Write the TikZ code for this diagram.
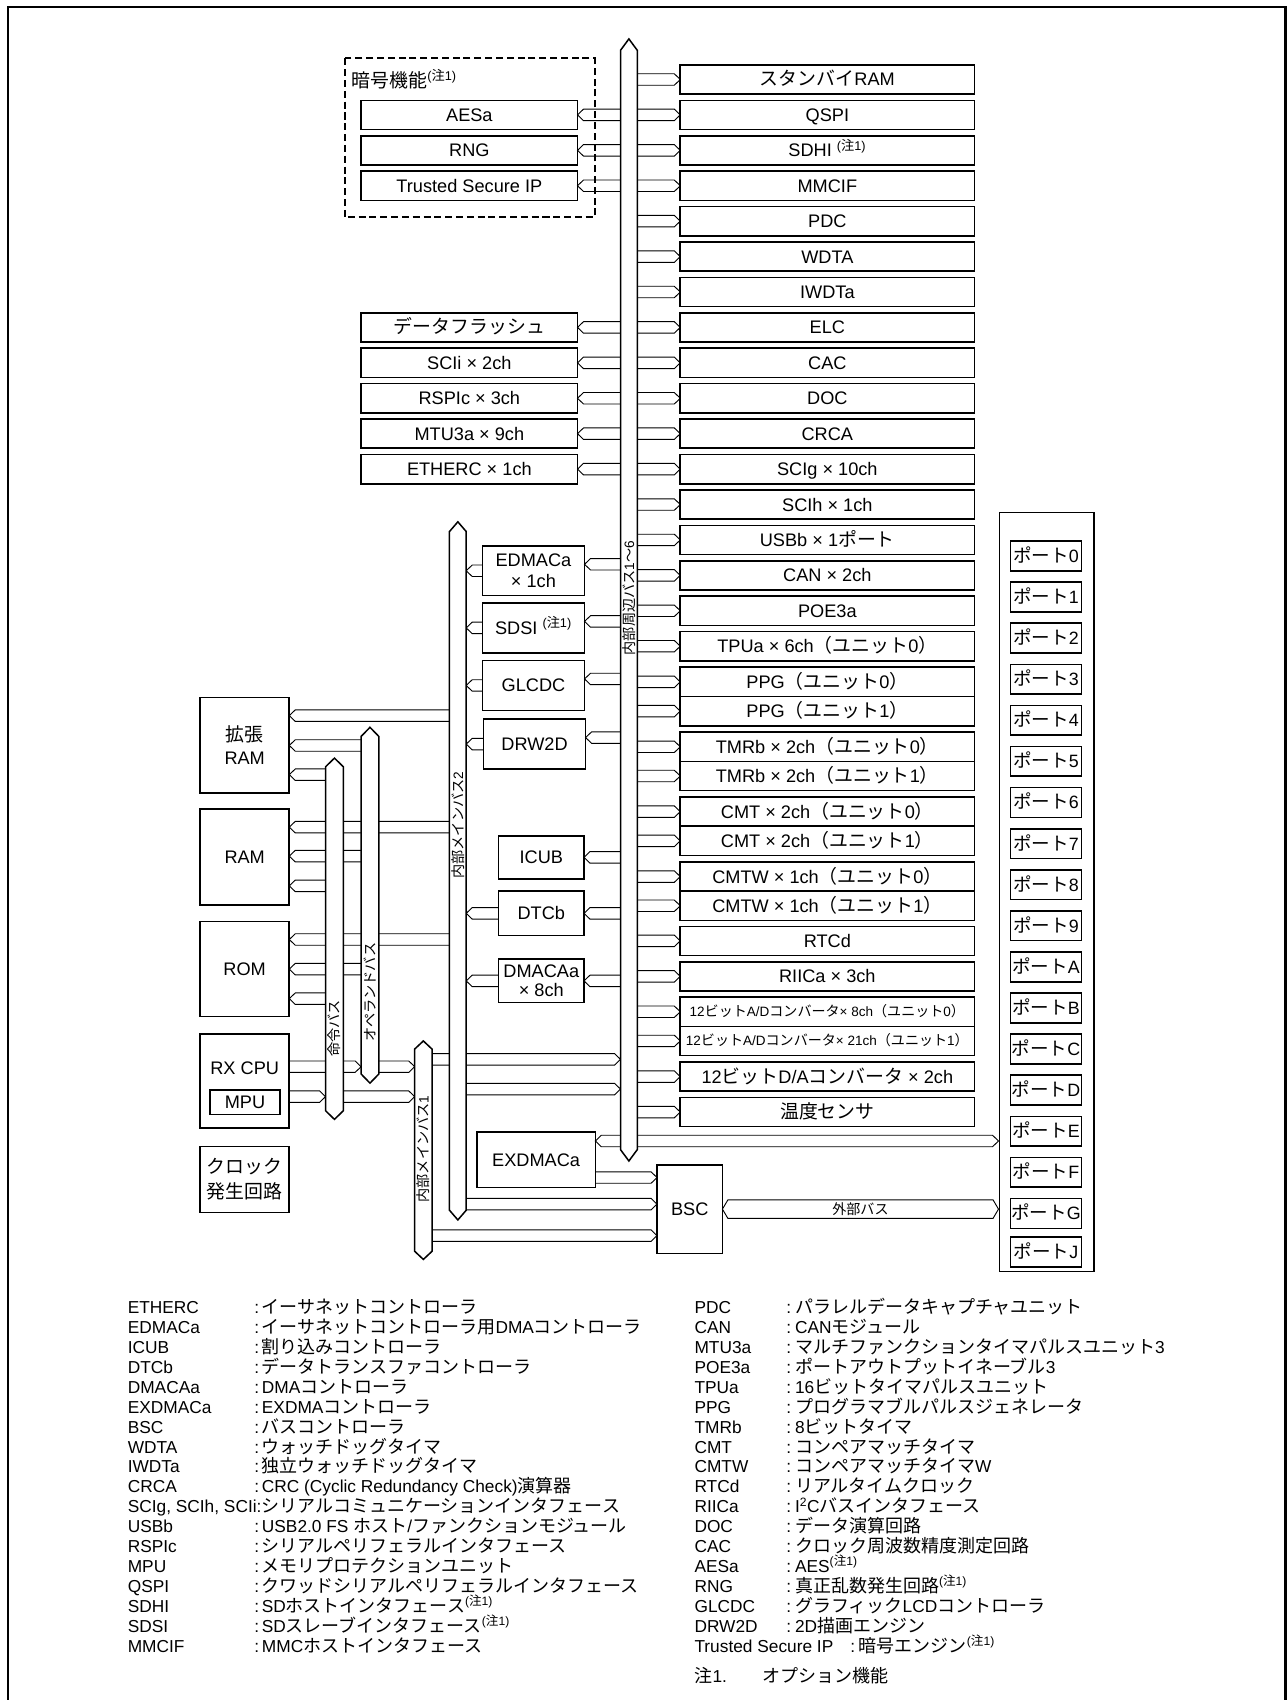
\documentclass[tikz,border=0pt]{standalone}
\usepackage{fontspec}
\setmainfont{Liberation Sans}
\newfontfamily\jpfont[Scale=1.04]{Noto Sans CJK JP}
\usetikzlibrary{calc}
\XeTeXinterchartokenstate=1
\newXeTeXintercharclass\cjkcls
\newcount\cjkc
\def\setcjkrange#1#2{\cjkc=#1\relax
  \loop\XeTeXcharclass\cjkc=\cjkcls\relax
  \advance\cjkc by 1\relax
  \ifnum\cjkc<#2\relax\repeat}
\setcjkrange{"3000}{"3100}
\setcjkrange{"4E00}{"A000}
\setcjkrange{"FF00}{"FFF0}
\XeTeXinterchartoks 0 \cjkcls = {\jpfont}
\XeTeXinterchartoks 4095 \cjkcls = {\jpfont}
\XeTeXinterchartoks \cjkcls 0 = {\normalfont}
\XeTeXinterchartoks \cjkcls 4095 = {\normalfont}
\newcommand\fsz[2]{\fontsize{#1}{#2}\selectfont}
\tikzset{
  bx/.style={draw, line width=1.5pt, fill=white, inner sep=0pt, outer sep=0pt, align=center, font=\fsz{16.8}{20}, text height=12pt, text depth=0pt},
  multi/.style={text height={}, text depth={}},
  rbox/.style={bx, minimum width=272pt, minimum height=27pt},
  smallbox/.style={rbox, font=\fsz{12.5}{15}, text height=9pt},
  lbox/.style={bx, minimum width=200pt, minimum height=27pt},
  pbox/.style={bx, minimum width=65.5pt, minimum height=27.5pt, font=\fsz{16.5}{20}},
  busn/.style={inner sep=0pt, outer sep=0pt},
  conn/.style={draw, line width=0.85pt, line join=miter},
  busline/.style={draw, line width=1.4pt, fill=white, line join=miter},
  buslabel/.style={rotate=90, inner sep=0pt, font=\fsz{12.6}{15}},
  leg/.style={anchor=base west, inner sep=0pt, font=\fsz{16}{19}},
}
\def\ah{5.3}\def\at{5.5}
\newcommand\rarr[3][0]{\draw[conn] ($(#2)+(0,#1-\ah)$) -- ($(#3)+(-\at,#1-\ah)$) -- ($(#3)+(0,#1)$) -- ($(#3)+(-\at,#1+\ah)$) -- ($(#2)+(0,#1+\ah)$);}
\newcommand\larr[3][0]{\draw[conn] ($(#2)+(0,#1-\ah)$) -- ($(#3)+(\at,#1-\ah)$) -- ($(#3)+(0,#1)$) -- ($(#3)+(\at,#1+\ah)$) -- ($(#2)+(0,#1+\ah)$);}
\newcommand\drawbus[2]{\draw[busline] (#1.south west) -- (#1.north west) -- ($(#1.north)+(0,-#2)$) -- (#1.north east) -- (#1.south east) -- ($(#1.south)+(0,#2)$) -- cycle;}
\newcommand\legrow[7]{%
  \node[leg] (#7a) at (#1,#4) {#5};
  \node[leg] (#7b) at (#2,#4) {:};
  \node[leg] (#7c) at (#3,#4) {#6};}
\begin{document}
\begin{tikzpicture}[x=1pt,y=-1pt]
\useasboundingbox (0,0) rectangle (1190,1571.9);
\draw[line width=2.1pt] (7.7,1571.9) -- (7.7,6.8) -- (1188.6,6.8) -- (1188.6,1571.9);

% bus bodies (anchors)
\node[busn, minimum width=15.5pt, minimum height=1016.5pt] (busP) at (581.5,554.75) {};
\node[busn, minimum width=15.5pt, minimum height=627.5pt] (bus2) at (423.35,805.25) {};
\node[busn, minimum width=16pt, minimum height=187pt] (bus1) at (391.45,1063.5) {};
\node[busn, minimum width=16.5pt, minimum height=318pt] (insbus) at (309.25,868) {};
\node[busn, minimum width=16.5pt, minimum height=312pt] (opbus) at (342.1,837) {};

% right column
\node[rbox] (stb) at (765,73.5) {スタンバイRAM};
\node[rbox] (qspi) at (765,106.25) {QSPI};
\node[rbox] (sdhi) at (765,139) {SDHI \textsuperscript{(注1)}};
\node[rbox] (mmcif) at (765,171.75) {MMCIF};
\node[rbox] (pdc) at (765,204.5) {PDC};
\node[rbox] (wdta) at (765,237.25) {WDTA};
\node[rbox] (iwdta) at (765,270) {IWDTa};
\node[rbox] (elc) at (765,302.75) {ELC};
\node[rbox] (cac) at (765,335.5) {CAC};
\node[rbox] (doc) at (765,368.25) {DOC};
\node[rbox] (crca) at (765,401) {CRCA};
\node[rbox] (scig) at (765,433.75) {SCIg × 10ch};
\node[rbox] (scih) at (765,466.5) {SCIh × 1ch};
\node[rbox] (usbb) at (765,499.25) {USBb × 1ポート};
\node[rbox] (can) at (765,532) {CAN × 2ch};
\node[rbox] (poe) at (765,564.75) {POE3a};
\node[rbox] (tpu) at (765,597.5) {TPUa × 6ch（ユニット0）};
\node[rbox] (ppg0) at (765,630.5) {PPG（ユニット0）};
\node[rbox] (ppg1) at (765,657.5) {PPG（ユニット1）};
\node[rbox] (tmr0) at (765,690.5) {TMRb × 2ch（ユニット0）};
\node[rbox] (tmr1) at (765,717.5) {TMRb × 2ch（ユニット1）};
\node[rbox] (cmt0) at (765,750.5) {CMT × 2ch（ユニット0）};
\node[rbox] (cmt1) at (765,777.5) {CMT × 2ch（ユニット1）};
\node[rbox] (cmtw0) at (765,810.5) {CMTW × 1ch（ユニット0）};
\node[rbox] (cmtw1) at (765,837.5) {CMTW × 1ch（ユニット1）};
\node[rbox] (rtc) at (765,870) {RTCd};
\node[rbox] (riic) at (765,902.75) {RIICa × 3ch};
\node[smallbox] (ad0) at (765,935.5) {12ビットA/Dコンバータ× 8ch（ユニット0）};
\node[smallbox] (ad1) at (765,962.5) {12ビットA/Dコンバータ× 21ch（ユニット1）};
\node[rbox] (da) at (765,995.5) {12ビットD/Aコンバータ × 2ch};
\node[rbox] (temp) at (765,1028.25) {温度センサ};

% left column
\node[lbox] (aes) at (434,106.25) {AESa};
\node[lbox] (rng) at (434,139) {RNG};
\node[lbox] (tsip) at (434,171.75) {Trusted Secure IP};
\node[lbox] (dflash) at (434,302.75) {データフラッシュ};
\node[lbox] (scii) at (434,335.5) {SCIi × 2ch};
\node[lbox] (rspi) at (434,368.25) {RSPIc × 3ch};
\node[lbox] (mtu) at (434,401) {MTU3a × 9ch};
\node[lbox] (ether) at (434,433.75) {ETHERC × 1ch};

% middle column
\node[bx, multi, minimum width=94.5pt, minimum height=46pt] (edmac) at (493.25,527.75) {EDMACa\\× 1ch};
\node[bx, minimum width=94.5pt, minimum height=46pt] (sdsi) at (493.25,580.6) {SDSI \textsuperscript{(注1)}};
\node[bx, minimum width=94.5pt, minimum height=46pt] (glcdc) at (493.25,633.8) {GLCDC};
\node[bx, minimum width=94.5pt, minimum height=46pt] (drw) at (494.25,688) {DRW2D};
\node[bx, minimum width=79pt, minimum height=39.5pt] (icub) at (500.5,792.75) {ICUB};
\node[bx, minimum width=79pt, minimum height=41pt] (dtcb) at (500.5,844.5) {DTCb};
\node[bx, multi, minimum width=79pt, minimum height=40pt, font=\fsz{16.8}{17.5}] (dmaca) at (500.5,907) {DMACAa\\× 8ch};
\node[bx, minimum width=109.5pt, minimum height=51.5pt] (exdmac) at (495.75,1072.25) {EXDMACa};
\node[bx, minimum width=60.5pt, minimum height=82pt] (bsc) at (637.75,1118) {BSC};

% memories and CPU
\node[bx, multi, minimum width=82.5pt, minimum height=88.2pt, font=\fsz{16.8}{20.5}] (exram) at (226.25,688.9) {拡張\\RAM};
\node[bx, minimum width=82.5pt, minimum height=89pt] (ram) at (226.25,792.5) {RAM};
\node[bx, minimum width=82.5pt, minimum height=88pt] (rom) at (226.25,896) {ROM};
\node[bx, minimum width=82.5pt, minimum height=87pt] (cpu) at (226.25,999.5) {};
\node[inner sep=0pt, font=\fsz{16.8}{20}, text height=12pt, text depth=0pt] (cputxt) at (226.25,987.8) {RX CPU};
\node[bx, minimum width=64.7pt, minimum height=22.5pt] (mpu) at (226.5,1019.1) {MPU};
\node[bx, multi, minimum width=82.5pt, minimum height=61pt, font=\fsz{16.8}{23}] (clk) at (226.25,1090.5) {クロック\\発生回路};

% ports
\node[draw, line width=1.5pt, inner sep=0pt, minimum width=87.5pt, minimum height=701.5pt] (ports) at (967.75,824.75) {};
\foreach \t [count=\i from 0] in {0,1,2,3,4,5,6,7,8,9,A,B,C,D,E,F,G}
  \node[pbox] (p\t) at (967.25,{514+38*\i}) {ポート\t};
\node[pbox] (pJ) at (967.25,1157.5) {ポートJ};

% connectors: peripheral bus
\foreach \n in {stb,qspi,sdhi,mmcif,pdc,wdta,iwdta,elc,cac,doc,crca,scig,scih,usbb,can,poe,tpu,ppg0,ppg1,tmr0,tmr1,cmt0,cmt1,cmtw0,cmtw1,rtc,riic,ad0,ad1,da,temp}
  {\rarr{busP.east |- \n.west}{\n.west}}
\foreach \n in {aes,rng,tsip,dflash,scii,rspi,mtu,ether}
  {\larr{busP.west |- \n.east}{\n.east}}
\foreach \n in {edmac,sdsi,glcdc,drw}
  {\larr[-6]{busP.west |- \n.east}{\n.east}}
\foreach \n in {icub,dtcb,dmaca}
  {\larr{busP.west |- \n.east}{\n.east}}
\foreach \n in {edmac,sdsi,glcdc,drw,dtcb,dmaca}
  {\larr{\n.west}{bus2.east |- \n.west}}

% memories
\larr{bus2.west |- 0,661.7}{exram.east |- 0,661.7}
\larr{opbus.west |- 0,689.3}{exram.east |- 0,689.3}
\larr{insbus.west |- 0,716.3}{exram.east |- 0,716.3}
\larr{bus2.west |- 0,764.8}{ram.east |- 0,764.8}
\larr{opbus.west |- 0,791.6}{ram.east |- 0,791.6}
\larr{insbus.west |- 0,819.1}{ram.east |- 0,819.1}
\larr{bus2.west |- 0,868.7}{rom.east |- 0,868.7}
\larr{opbus.west |- 0,896.1}{rom.east |- 0,896.1}
\larr{insbus.west |- 0,923.4}{rom.east |- 0,923.4}

% CPU
\rarr{cpu.east |- 0,986.3}{opbus.west |- 0,986.3}
\rarr{opbus.east |- 0,986.3}{bus1.west |- 0,986.3}
\rarr{cpu.east |- 0,1014}{insbus.west |- 0,1014}
\rarr{insbus.east |- 0,1014}{bus1.west |- 0,1014}

% bus interconnects
\rarr{bus1.east |- 0,979.5}{busP.west |- 0,979.5}
\rarr{bus2.east |- 0,1007}{busP.west |- 0,1007}
\larr{busP.west |- 0,1055}{exdmac.east |- 0,1055}
\rarr{busP.east |- 0,1055}{ports.west |- 0,1055}
\rarr{exdmac.east |- 0,1088.8}{bsc.west |- 0,1088.8}
\rarr{bus2.east |- 0,1113.4}{bsc.west |- 0,1113.4}
\rarr{bus1.east |- 0,1142.5}{bsc.west |- 0,1142.5}

% external bus
\draw[conn] ($(bsc.east)+(5,-8.5)$) -- ($(ports.west |- bsc.east)+(-5,-8.5)$) -- (ports.west |- bsc.east) -- ($(ports.west |- bsc.east)+(-5,8.5)$) -- ($(bsc.east)+(5,8.5)$) -- (bsc.east) -- cycle;
\node[inner sep=0pt, font=\fsz{12.5}{15}] (extlbl) at ($(bsc.east)!0.5!(ports.west |- bsc.east)$) {外部バス};

% buses
\drawbus{busP}{10.5}
\drawbus{bus2}{9}
\drawbus{bus1}{7.5}
\drawbus{opbus}{8.5}
\drawbus{insbus}{8}
\node[buslabel] (lblP) at (581.5,553) {内部周辺バス1〜6};
\node[buslabel] (lbl2) at (423.35,763) {内部メインバス2};
\node[buslabel] (lbl1) at (391.45,1062.5) {内部メインバス1};
\node[buslabel] (lblins) at (309.25,951) {命令バス};
\node[buslabel] (lblop) at (342.1,917.5) {オペランドバス};

% crypto group
\draw[line width=1.8pt, dash pattern=on 6.5pt off 3.5pt] (318.6,54) rectangle (549.8,201);
\node[anchor=west, inner sep=0pt, font=\fsz{16.8}{20}] (crypt) at (325,73) {暗号機能\textsuperscript{(注1)}};

% legend left
\legrow{118}{235}{242}{1214.5}{ETHERC}{イーサネットコントローラ}{l1}
\legrow{118}{235}{242}{1232.93}{EDMACa}{イーサネットコントローラ用DMAコントローラ}{l2}
\legrow{118}{235}{242}{1251.36}{ICUB}{割り込みコントローラ}{l3}
\legrow{118}{235}{242}{1269.79}{DTCb}{データトランスファコントローラ}{l4}
\legrow{118}{235}{242}{1288.22}{DMACAa}{DMAコントローラ}{l5}
\legrow{118}{235}{242}{1306.65}{EXDMACa}{EXDMAコントローラ}{l6}
\legrow{118}{235}{242}{1325.08}{BSC}{バスコントローラ}{l7}
\legrow{118}{235}{242}{1343.51}{WDTA}{ウォッチドッグタイマ}{l8}
\legrow{118}{235}{242}{1361.94}{IWDTa}{独立ウォッチドッグタイマ}{l9}
\legrow{118}{235}{242}{1380.37}{CRCA}{CRC (Cyclic Redundancy Check)演算器}{l10}
\node[leg] (l11a) at (118,1398.8) {SCIg, SCIh, SCIi:};
\node[leg] (l11c) at (242,1398.8) {シリアルコミュニケーションインタフェース};
\legrow{118}{235}{242}{1417.23}{USBb}{USB2.0 FS ホスト/ファンクションモジュール}{l12}
\legrow{118}{235}{242}{1435.66}{RSPIc}{シリアルペリフェラルインタフェース}{l13}
\legrow{118}{235}{242}{1454.09}{MPU}{メモリプロテクションユニット}{l14}
\legrow{118}{235}{242}{1472.52}{QSPI}{クワッドシリアルペリフェラルインタフェース}{l15}
\legrow{118}{235}{242}{1490.95}{SDHI}{SDホストインタフェース\textsuperscript{(注1)}}{l16}
\legrow{118}{235}{242}{1509.38}{SDSI}{SDスレーブインタフェース\textsuperscript{(注1)}}{l17}
\legrow{118}{235}{242}{1527.81}{MMCIF}{MMCホストインタフェース}{l18}

% legend right
\legrow{642}{727}{735}{1214.5}{PDC}{パラレルデータキャプチャユニット}{r1}
\legrow{642}{727}{735}{1232.93}{CAN}{CANモジュール}{r2}
\legrow{642}{727}{735}{1251.36}{MTU3a}{マルチファンクションタイマパルスユニット3}{r3}
\legrow{642}{727}{735}{1269.79}{POE3a}{ポートアウトプットイネーブル3}{r4}
\legrow{642}{727}{735}{1288.22}{TPUa}{16ビットタイマパルスユニット}{r5}
\legrow{642}{727}{735}{1306.65}{PPG}{プログラマブルパルスジェネレータ}{r6}
\legrow{642}{727}{735}{1325.08}{TMRb}{8ビットタイマ}{r7}
\legrow{642}{727}{735}{1343.51}{CMT}{コンペアマッチタイマ}{r8}
\legrow{642}{727}{735}{1361.94}{CMTW}{コンペアマッチタイマW}{r9}
\legrow{642}{727}{735}{1380.37}{RTCd}{リアルタイムクロック}{r10}
\legrow{642}{727}{735}{1398.8}{RIICa}{I\textsuperscript{2}Cバスインタフェース}{r11}
\legrow{642}{727}{735}{1417.23}{DOC}{データ演算回路}{r12}
\legrow{642}{727}{735}{1435.66}{CAC}{クロック周波数精度測定回路}{r13}
\legrow{642}{727}{735}{1454.09}{AESa}{AES\textsuperscript{(注1)}}{r14}
\legrow{642}{727}{735}{1472.52}{RNG}{真正乱数発生回路\textsuperscript{(注1)}}{r15}
\legrow{642}{727}{735}{1490.95}{GLCDC}{グラフィックLCDコントローラ}{r16}
\legrow{642}{727}{735}{1509.38}{DRW2D}{2D描画エンジン}{r17}
\legrow{642}{786}{794}{1527.81}{Trusted Secure IP}{暗号エンジン\textsuperscript{(注1)}}{r18}
\node[leg] (n1a) at (642,1555.5) {注1.};
\node[leg] (n1b) at (705,1555.5) {オプション機能};
\end{tikzpicture}
\end{document}
